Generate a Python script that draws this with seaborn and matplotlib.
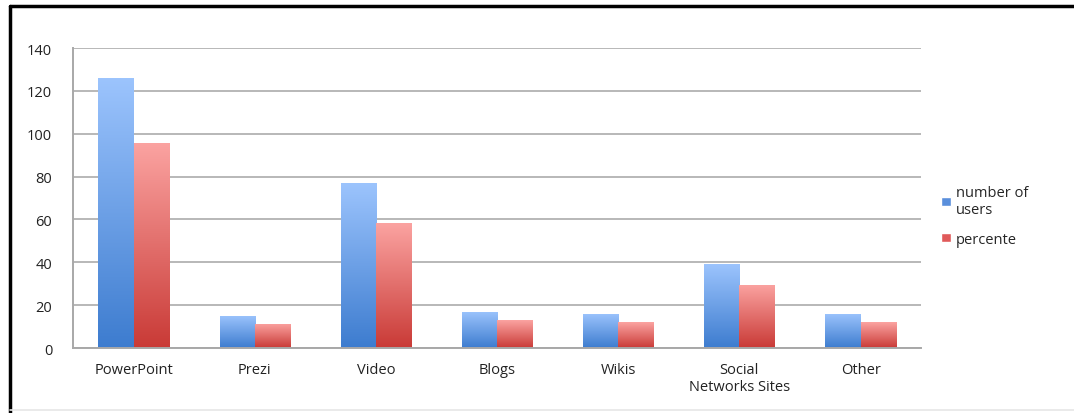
import numpy as np
import pandas as pd
import matplotlib
matplotlib.use("Agg")
import matplotlib.pyplot as plt
import seaborn as sns
from matplotlib.colors import LinearSegmentedColormap
from matplotlib.patches import Patch
from matplotlib.lines import Line2D

categories = ["PowerPoint", "Prezi", "Video", "Blogs", "Wikis", "Social\nNetworks Sites", "Other"]
users = [126, 15, 77, 17, 16, 39, 16]
percente = [95.5, 11.4, 58.3, 12.9, 12.1, 29.5, 12.1]
series_names = ["number of\nusers", "percente"]
yticks = [0, 20, 40, 60, 80, 100, 120, 140]

df = pd.DataFrame({
    "category": categories * 2,
    "value": users + percente,
    "series": [series_names[0]] * len(categories) + [series_names[1]] * len(categories),
})

sns.set_style("white")
plt.rcParams["font.family"] = ["Open Sans", "DejaVu Sans"]

fig = plt.figure(figsize=(10.74, 4.14), dpi=100)
ax = fig.add_axes([0.068, 0.157, 0.7897, 0.7246])

mid_colors = ["#5a8fdc", "#e05a5a"]
sns.barplot(data=df, x="category", y="value", hue="series", order=categories,
            hue_order=series_names, palette=mid_colors, width=0.58, ax=ax,
            legend=False, saturation=1)

grads = [
    LinearSegmentedColormap.from_list("b", ["#3d7ccf", "#9cc4fd"]),
    LinearSegmentedColormap.from_list("r", ["#c93a36", "#fba3a1"]),
]
ax.set_ylim(0, 140)
ax.set_xlim(-0.5, len(categories) - 0.5)
grad = np.linspace(0, 1, 256).reshape(-1, 1)
n = len(categories)
for i, p in enumerate(list(ax.patches)):
    s = 0 if i < n else 1
    x0, y0 = p.get_x(), p.get_y()
    w, h = p.get_width(), p.get_height()
    if h <= 0:
        continue
    im = ax.imshow(grad, cmap=grads[s], origin="lower", aspect="auto",
                   extent=(x0, x0 + w, y0, y0 + h), zorder=p.get_zorder(),
                   interpolation="bilinear")
    im.set_clip_path(p)
    p.set_facecolor("none")
    p.set_edgecolor("none")
ax.set_xlim(-0.5, len(categories) - 0.5)
ax.set_ylim(0, 140)

ax.set_yticks(yticks)
ax.yaxis.grid(True, color="#b8b8b8", linewidth=1.4)
ax.set_axisbelow(True)
for side in ["top", "right"]:
    ax.spines[side].set_visible(False)
for side in ["left", "bottom"]:
    ax.spines[side].set_color("#a8a8a8")
    ax.spines[side].set_linewidth(1.4)
ax.tick_params(axis="y", length=0, pad=15, labelsize=10.5, colors="#222222")
ax.tick_params(axis="x", length=0, pad=10, labelsize=10.5, colors="#222222")
ax.set_xlabel("")
ax.set_ylabel("")

handles = [Patch(facecolor=mid_colors[0]), Patch(facecolor=mid_colors[1])]
fig.legend(handles, series_names, loc="upper left", bbox_to_anchor=(0.871, 0.565),
           frameon=False, fontsize=10.5, handlelength=0.65, handleheight=0.65,
           handletextpad=0.35, labelspacing=1.0, borderaxespad=0)

# outer frame lines
fig.add_artist(Line2D([10 / 1074, 1.0], [1 - 7 / 414, 1 - 7 / 414], color="black", linewidth=2.5,
                      transform=fig.transFigure))
fig.add_artist(Line2D([10 / 1074, 10 / 1074], [0, 1 - 7 / 414], color="black", linewidth=2.5,
                      transform=fig.transFigure))
fig.add_artist(Line2D([10 / 1074, 1.0], [3 / 414, 3 / 414], color="#e6e6e6", linewidth=1.2,
                      transform=fig.transFigure))

fig.savefig("out.png", dpi=100)
